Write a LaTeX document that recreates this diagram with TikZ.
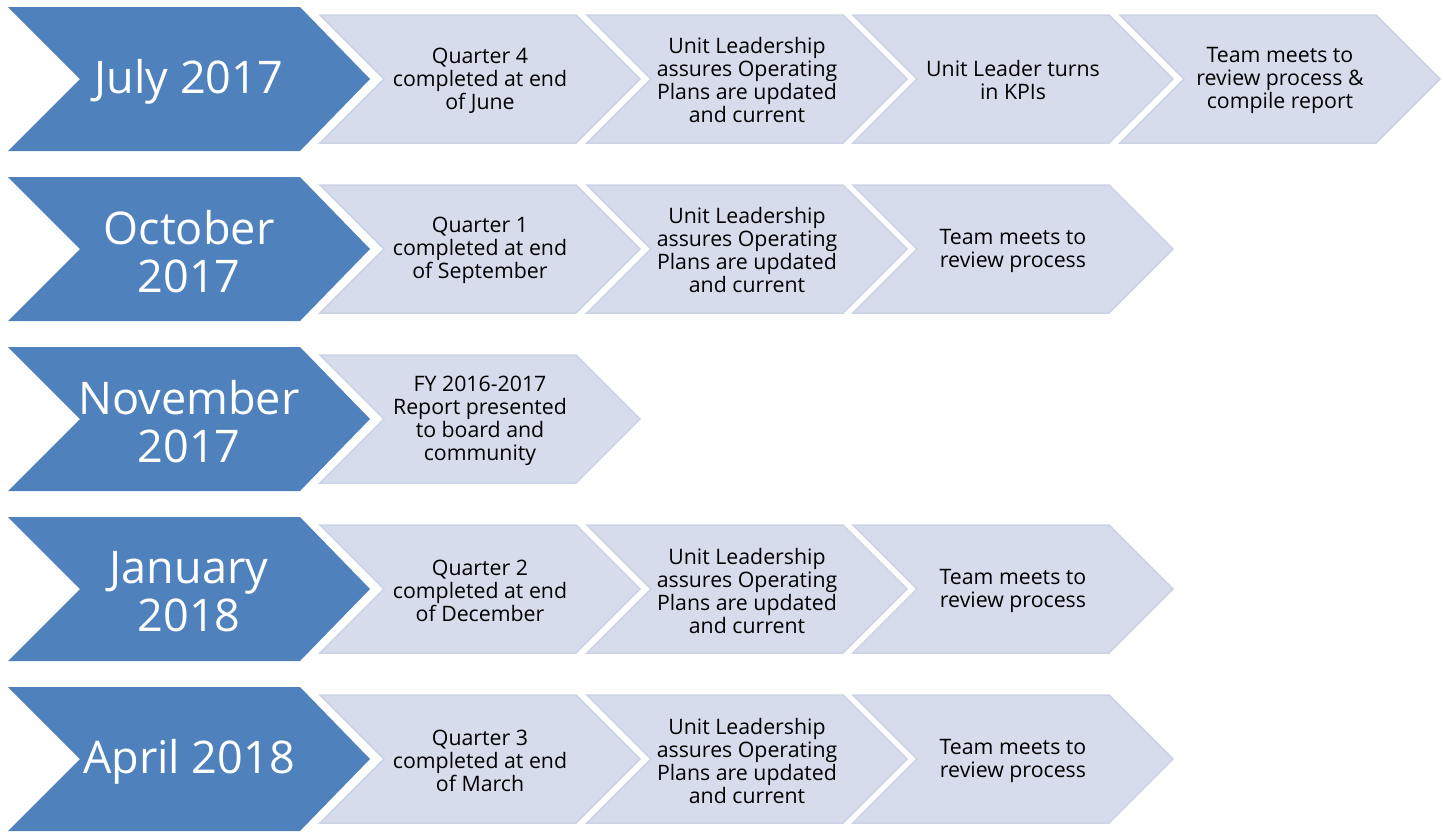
\documentclass[tikz,border=0pt]{standalone}
\usepackage{fontspec}
\setmainfont{Open Sans}
\definecolor{deepblue}{RGB}{79,129,189}
\definecolor{paleblue}{RGB}{214,220,235}
\definecolor{paleedge}{RGB}{203,211,229}
\tikzset{
  pics/monthchev/.style={code={
    \fill[deepblue] (0,-72) -- (292,-72) -- (362,0) -- (292,72) -- (0,72) -- (72,0) -- cycle;
  }},
  pics/stepchev/.style={code={
    \filldraw[fill=paleblue,draw=paleedge,line width=1.5pt,line join=miter]
      (0,-64) -- (256,-64) -- (320,0) -- (256,64) -- (0,64) -- (64,0) -- cycle;
  }},
  monthtext/.style={text=white,align=center,font=\fontsize{45}{48}\selectfont,inner sep=0pt},
  steptext/.style={text=black,align=center,font=\fontsize{21.3}{23}\selectfont,inner sep=0pt}
}
\newcommand\monthrow[2]{%
  \pic at (8,#1) {monthchev};
  \node[monthtext] (m#1) at (189,{#1+3}) {#2};
}
\newcommand\steprow[4]{%
  \pic at (#2,#1) {stepchev};
  \node[steptext] (s#1-#3) at ({#2+160},{#1+1.5}) {#4};
}
\begin{document}
\begin{tikzpicture}[x=1pt,y=-1pt]
  \useasboundingbox (0,0) rectangle (1443,831);

  % July 2017
  \monthrow{79}{July 2017}
  \steprow{79}{320}{1}{Quarter 4\\completed at end\\of June}
  \steprow{79}{587}{2}{Unit Leadership\\assures Operating\\Plans are updated\\and current}
  \steprow{79}{853}{3}{Unit Leader turns\\in KPIs}
  \steprow{79}{1120}{4}{Team meets to\\review process \&\\compile report}

  % October 2017
  \monthrow{249}{October\\2017}
  \steprow{249}{320}{1}{Quarter 1\\completed at end\\of September}
  \steprow{249}{587}{2}{Unit Leadership\\assures Operating\\Plans are updated\\and current}
  \steprow{249}{853}{3}{Team meets to\\review process}

  % November 2017
  \monthrow{419}{November\\2017}
  \steprow{419}{320}{1}{FY 2016-2017\\Report presented\\to board and\\community}

  % January 2018
  \monthrow{589}{January\\2018}
  \steprow{589}{320}{1}{Quarter 2\\completed at end\\of December}
  \steprow{589}{587}{2}{Unit Leadership\\assures Operating\\Plans are updated\\and current}
  \steprow{589}{853}{3}{Team meets to\\review process}

  % April 2018
  \monthrow{759}{April 2018}
  \steprow{759}{320}{1}{Quarter 3\\completed at end\\of March}
  \steprow{759}{587}{2}{Unit Leadership\\assures Operating\\Plans are updated\\and current}
  \steprow{759}{853}{3}{Team meets to\\review process}
\end{tikzpicture}
\end{document}
